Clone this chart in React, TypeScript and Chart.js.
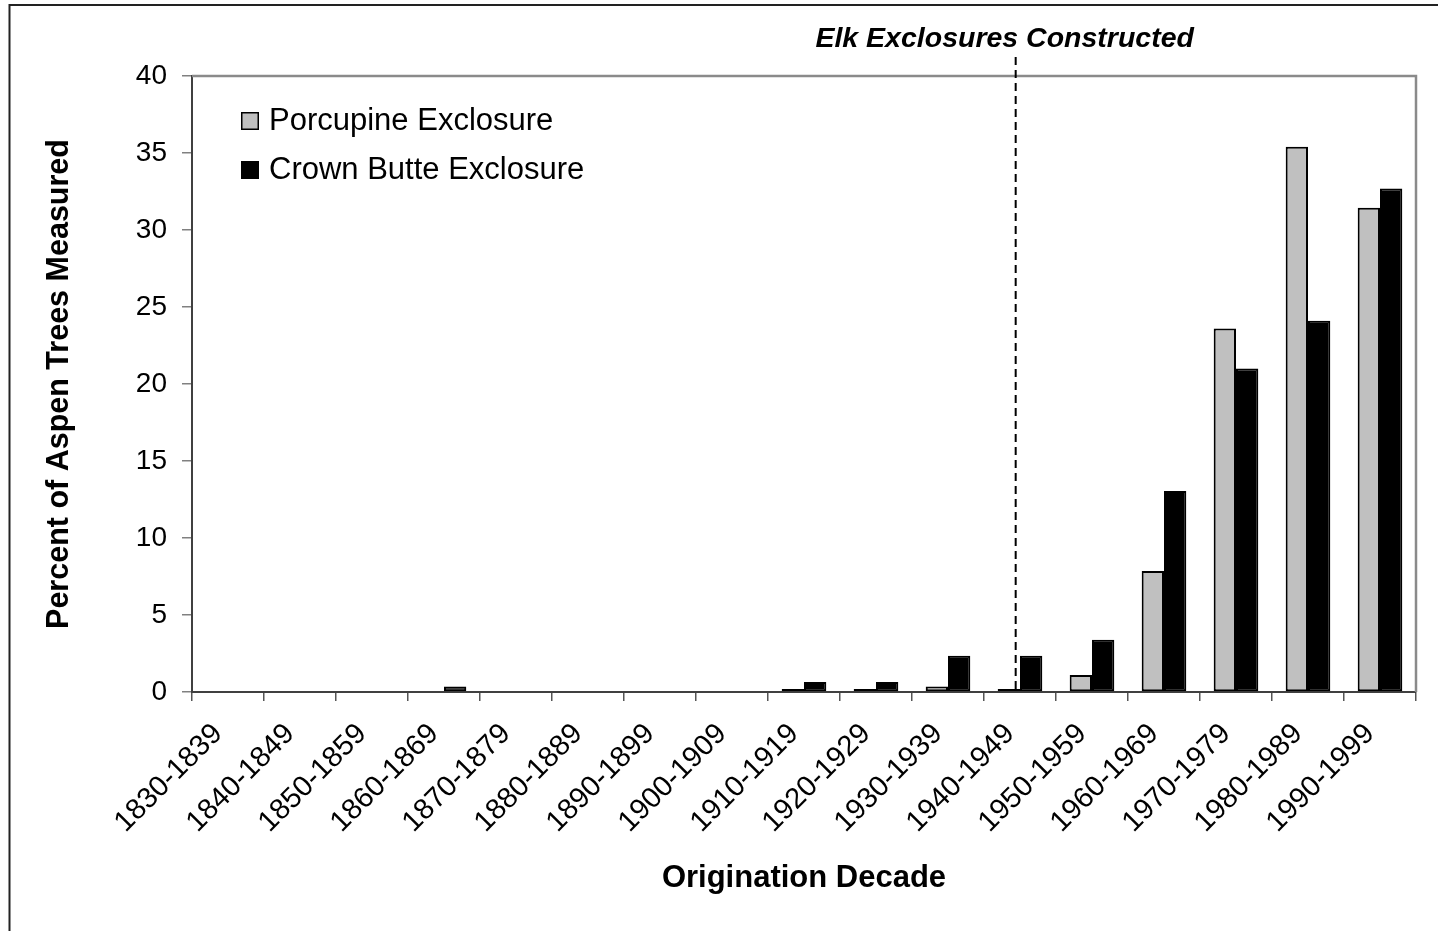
import React, { useEffect, useRef } from "react";
import { Chart, registerables } from "chart.js";

Chart.register(...registerables);

const categories = [
  "1830-1839", "1840-1849", "1850-1859", "1860-1869", "1870-1879", "1880-1889",
  "1890-1899", "1900-1909", "1910-1919", "1920-1929", "1930-1939", "1940-1949",
  "1950-1959", "1960-1969", "1970-1979", "1980-1989", "1990-1999",
];
const porcupineValues = [0, 0, 0, 0, 0, 0, 0, 0, 0.2, 0.2, 0.35, 0.2, 1.1, 7.85, 23.6, 35.4, 31.45];
const crownButteValues = [0, 0, 0, 0.35, 0, 0, 0, 0, 0.65, 0.65, 2.35, 2.35, 3.4, 13.05, 21.0, 24.1, 32.7];
const seriesNames = ["Porcupine Exclosure", "Crown Butte Exclosure"];
const seriesColors = ["#c0c0c0", "#000000"];
const yMin = 0;
const yMax = 40;
const yStep = 5;
const annotationText = "Elk Exclosures Constructed";
const annotationAt = 10.94;
const xTitle = "Origination Decade";
const yTitle = "Percent of Aspen Trees Measured";

const FONT = "'Liberation Sans', Arial, Helvetica, sans-serif";

export default function App() {
  const ref = useRef<HTMLCanvasElement>(null);

  useEffect(() => {
    const canvas = ref.current;
    if (!canvas) return;

    const decorPlugin = {
      id: "decor",
      beforeDraw(chart: any) {
        const ctx = chart.ctx;
        ctx.save();
        ctx.fillStyle = "#ffffff";
        ctx.fillRect(0, 0, chart.width, chart.height);
        ctx.strokeStyle = "#222222";
        ctx.lineWidth = 2;
        ctx.beginPath();
        ctx.moveTo(9.5, chart.height);
        ctx.lineTo(9.5, 5);
        ctx.lineTo(chart.width, 5);
        ctx.stroke();
        ctx.restore();
      },
      afterDraw(chart: any) {
        const ctx = chart.ctx;
        const a = chart.chartArea;
        ctx.save();
        // plot border (top / right)
        ctx.strokeStyle = "#8a8a8a";
        ctx.lineWidth = 2.5;
        ctx.beginPath();
        ctx.moveTo(a.left, a.top);
        ctx.lineTo(a.right, a.top);
        ctx.lineTo(a.right, a.bottom);
        ctx.stroke();

        // dashed annotation line
        const x = chart.scales.x.getPixelForValue(annotationAt);
        ctx.strokeStyle = "#000000";
        ctx.lineWidth = 2;
        ctx.setLineDash([8, 5]);
        ctx.beginPath();
        ctx.moveTo(x, a.top - 19);
        ctx.lineTo(x, a.bottom);
        ctx.stroke();
        ctx.setLineDash([]);

        ctx.font = `italic bold 28.5px ${FONT}`;
        ctx.fillStyle = "#000000";
        ctx.textAlign = "center";
        ctx.textBaseline = "alphabetic";
        ctx.fillText(annotationText, x - 11, 47);

        // legend
        const lx = a.left + 49;
        const ly = a.top + 36;
        ctx.font = `31px ${FONT}`;
        ctx.textAlign = "left";
        ctx.textBaseline = "middle";
        chart.data.datasets.forEach((ds: any, i: number) => {
          const y = ly + i * 49;
          ctx.fillStyle = ds.backgroundColor;
          ctx.fillRect(lx, y, 18, 18);
          ctx.strokeStyle = "#000000";
          ctx.lineWidth = 1.5;
          ctx.strokeRect(lx + 0.75, y + 0.75, 16.5, 16.5);
          ctx.fillStyle = "#000000";
          ctx.fillText(ds.label, lx + 28, y + 9.5);
        });
        ctx.restore();
      },
    };

    const chart = new Chart(canvas, {
      type: "bar",
      data: {
        labels: categories,
        datasets: [
          {
            label: seriesNames[0],
            data: porcupineValues,
            backgroundColor: seriesColors[0],
            borderColor: "#000000",
            borderWidth: 2,
            borderSkipped: false,
          },
          {
            label: seriesNames[1],
            data: crownButteValues,
            backgroundColor: seriesColors[1],
            borderColor: "#000000",
            borderWidth: 2,
            borderSkipped: false,
          },
        ],
      },
      options: {
        responsive: false,
        animation: false,
        layout: { padding: { left: 0, top: 76, right: 22, bottom: 0 } },
        datasets: { bar: { categoryPercentage: 0.62, barPercentage: 1.0 } },
        plugins: {
          legend: { display: false },
          tooltip: { enabled: false },
          title: { display: false },
        },
        scales: {
          x: {
            grid: {
              display: true,
              drawOnChartArea: false,
              drawTicks: true,
              tickLength: 9,
              color: "#555555",
              lineWidth: 1.5,
              offset: true,
            },
            border: { display: true, color: "#404040", width: 2 },
            ticks: {
              autoSkip: false,
              minRotation: 45,
              maxRotation: 45,
              padding: 16,
              labelOffset: -10,
              color: "#000000",
              font: { family: FONT, size: 29 },
            },
            title: {
              display: true,
              text: xTitle,
              color: "#000000",
              font: { family: FONT, size: 31, weight: "bold" },
              padding: { top: 0, bottom: 34 },
            },
            afterFit: (s: any) => {
              s.height = 239;
            },
          },
          y: {
            min: yMin,
            max: yMax,
            grid: {
              display: true,
              drawOnChartArea: false,
              drawTicks: true,
              tickLength: 10,
              color: "#808080",
              lineWidth: 1.5,
            },
            border: { display: true, color: "#404040", width: 2 },
            ticks: {
              stepSize: yStep,
              padding: 15,
              color: "#000000",
              font: { family: FONT, size: 28 },
            },
            title: {
              display: true,
              text: yTitle,
              color: "#000000",
              font: { family: FONT, size: 30.5, weight: "bold" },
              padding: { top: 41, bottom: 0 },
            },
            afterFit: (s: any) => {
              s.width = 192;
            },
          },
        },
      },
      plugins: [decorPlugin],
    } as any);

    return () => chart.destroy();
  }, []);

  return (
    <div style={{ position: "fixed", left: 0, top: 0, width: 1438, height: 931, background: "#fff" }}>
      <canvas ref={ref} width={1438} height={931} style={{ display: "block", width: 1438, height: 931 }} />
    </div>
  );
}
